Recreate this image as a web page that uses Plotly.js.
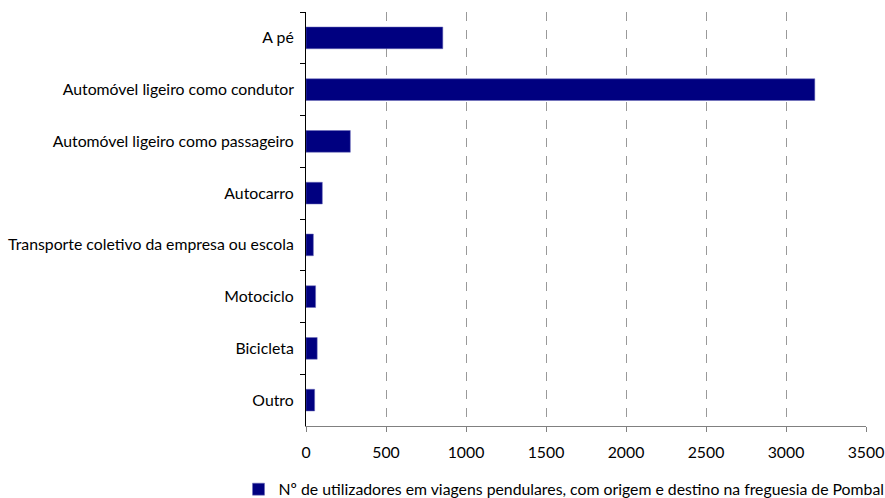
<!DOCTYPE html>
<html><head><meta charset="utf-8">
<script src="https://cdn.plot.ly/plotly-3.0.1.min.js"></script>
<style>body{margin:0;padding:0;background:#fff}#chart{width:885px;height:498px}</style>
</head><body><div id="chart"></div>
<script>
const categories = ["A pé","Automóvel ligeiro como condutor","Automóvel ligeiro como passageiro","Autocarro","Transporte coletivo da empresa ou escola","Motociclo","Bicicleta","Outro"];
const values = [855, 3180, 277, 102, 46, 60, 70, 54];
const seriesName = "Nº de utilizadores em viagens pendulares, com origem e destino na freguesia de Pombal";
const xTicks = [0,500,1000,1500,2000,2500,3000,3500];

const trace = {
  type: 'bar', orientation: 'h',
  y: categories, x: values, name: seriesName,
  marker: {color: '#000080', line: {color: '#6a6ab8', width: 0.5}},
  showlegend: true
};
const layout = {
  width: 885, height: 498,
  margin: {l: 306, r: 19, t: 12, b: 72, autoexpand: false},
  paper_bgcolor: '#fff', plot_bgcolor: '#fff',
  font: {family: 'Lato, Liberation Sans, Arial, sans-serif', size: 15.8, color: '#000'},
  bargap: 0.58,
  showlegend: true,
  legend: {orientation: 'h', x: 1.042, xanchor: 'right', y: -0.112, yanchor: 'top',
           font: {size: 15.8}, itemwidth: 30, tracegroupgap: 0},
  xaxis: {range: [0, 3500], tickvals: xTicks, ticktext: xTicks.map(String),
          showgrid: true, gridcolor: '#999', griddash: 'dash', gridwidth: 1,
          zeroline: false, showline: true, linecolor: '#808080', linewidth: 1,
          ticks: 'outside', ticklen: 5, tickcolor: '#808080', ticklabelstandoff: 7},
  yaxis: {categoryorder: 'array', categoryarray: categories, autorange: 'reversed',
          showline: true, linecolor: '#000', linewidth: 1,
          ticks: 'outside', tickson: 'boundaries', ticklen: 5, tickcolor: '#000',
          showgrid: false, zeroline: false, ticksuffix: '  '}
};
Plotly.newPlot('chart', [trace], layout, {displayModeBar: false, staticPlot: true});
</script></body></html>
